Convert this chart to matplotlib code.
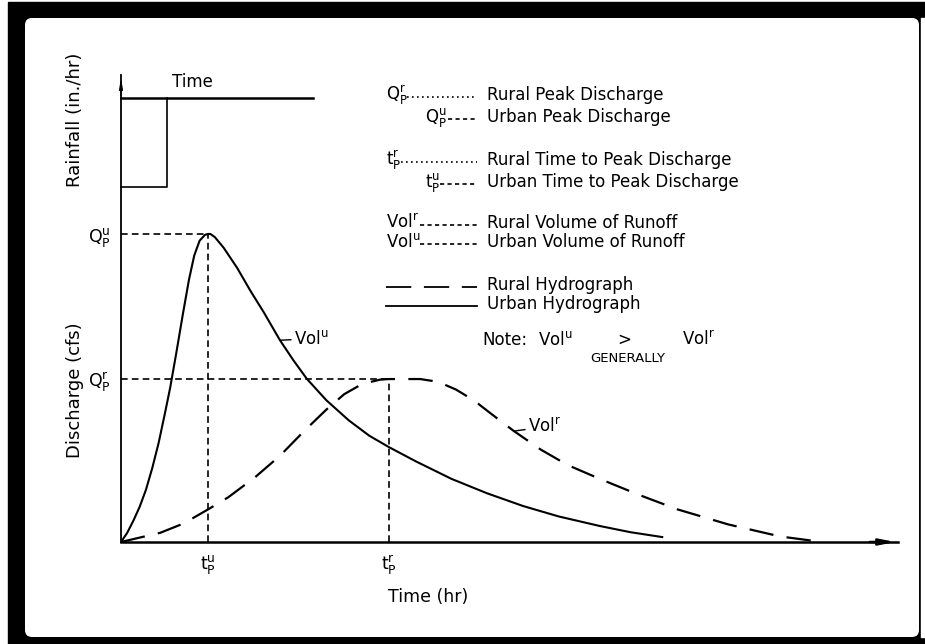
import matplotlib
matplotlib.use('Agg')
import matplotlib.pyplot as plt
from matplotlib.patches import Rectangle, FancyBboxPatch

# --- data (time in hr, discharge normalised) ---
urban_time = [0.0, 0.07, 0.14, 0.21, 0.28, 0.35, 0.42, 0.49, 0.55, 0.62, 0.69, 0.76,
              0.82, 0.88, 0.94, 0.974, 1.0, 1.05, 1.15, 1.3, 1.45, 1.6, 1.78, 1.93,
              2.08, 2.3, 2.55, 2.78, 3.0, 3.3, 3.7, 4.1, 4.5, 4.9, 5.36, 5.7, 6.06]
urban_q = [0.0, 0.03, 0.07, 0.115, 0.17, 0.24, 0.32, 0.415, 0.5, 0.615, 0.735, 0.85,
           0.93, 0.978, 0.997, 1.0, 1.0, 0.99, 0.955, 0.89, 0.815, 0.745, 0.655, 0.59,
           0.53, 0.46, 0.395, 0.345, 0.308, 0.262, 0.205, 0.158, 0.117, 0.083, 0.052,
           0.032, 0.016]

rural_time = [0.0, 0.44, 0.7, 0.97, 1.2, 1.5, 1.78, 2.05, 2.3, 2.5, 2.7, 2.9, 3.0, 3.35,
              3.55, 3.75, 3.95, 4.15, 4.4, 4.7, 5.0, 5.36, 5.8, 6.23, 6.8, 7.38, 7.85]
rural_q = [0.0, 0.03, 0.06, 0.105, 0.145, 0.21, 0.28, 0.36, 0.43, 0.48, 0.513, 0.527,
           0.529, 0.529, 0.52, 0.495, 0.46, 0.415, 0.36, 0.3, 0.25, 0.205, 0.153, 0.106,
           0.057, 0.018, 0.0]

t_peak_urban, q_peak_urban = 0.974, 1.0
t_peak_rural, q_peak_rural = 3.0, 0.529

rain_time = [0.0, 0.515]       # rainfall duration
rain_intensity = 1.0            # arbitrary depth of the hyetograph block
rain_axis_end = 2.15            # length of the rainfall time axis

legend_rows = [
    (r'Q$_P^r$', 'dot', 'Rural Peak Discharge'),
    (r'Q$_P^u$', 'dash_short', 'Urban Peak Discharge'),
    (r't$_P^r$', 'dot', 'Rural Time to Peak Discharge'),
    (r't$_P^u$', 'dash_short', 'Urban Time to Peak Discharge'),
    (r'Vol$^r$', 'dash', 'Rural Volume of Runoff'),
    (r'Vol$^u$', 'dash', 'Urban Volume of Runoff'),
    ('', 'long', 'Rural Hydrograph'),
    ('', 'solid', 'Urban Hydrograph'),
]

plt.rcParams['font.family'] = ['DejaVu Sans']
plt.rcParams['mathtext.default'] = 'regular'

W, H = 925, 644
fig = plt.figure(figsize=(W / 100, H / 100), dpi=100)


def fx(px):
    return px / W


def fy(py):
    return 1 - py / H


# background / frame in pixel coordinates
bg = fig.add_axes([0, 0, 1, 1])
bg.set_xlim(0, W)
bg.set_ylim(H, 0)
bg.axis('off')
bg.add_patch(Rectangle((8, 2), W - 8, H - 2, color='black'))
bg.add_patch(FancyBboxPatch((25, 18), 894, 619, boxstyle='round,pad=0,rounding_size=7',
                            fc='white', ec='none'))
bg.add_patch(Rectangle((921, 18), 4, 619, color='white'))

# main hydrograph axes
x0, x1, y0, y1 = 121, 898, 542, 75
ax = fig.add_axes([fx(x0), fy(y0), fx(x1) - fx(x0), fy(y1) - fy(y0)])
ax.patch.set_alpha(0)
ax.set_xlim(0, 8.70)
ax.set_ylim(0, 1.516)
for s in ['top', 'right']:
    ax.spines[s].set_visible(False)
ax.spines['left'].set_linewidth(1.3)
ax.spines['bottom'].set_linewidth(1.8)

ax.plot(urban_time, urban_q, color='black', lw=1.5, solid_joinstyle='round')
ax.plot(rural_time, rural_q, color='black', lw=1.6, linestyle=(0, (11, 6)))

guide = dict(color='black', lw=1.2, linestyle=(0, (4, 2.5)))
ax.plot([0, t_peak_urban], [q_peak_urban, q_peak_urban], **guide)
ax.plot([t_peak_urban, t_peak_urban], [0, q_peak_urban], **guide)
ax.plot([0, t_peak_rural], [q_peak_rural, q_peak_rural], **guide)
ax.plot([t_peak_rural, t_peak_rural], [0, q_peak_rural], **guide)

ax.set_xticks([t_peak_urban, t_peak_rural], labels=[r't$_P^u$', r't$_P^r$'], fontsize=12.5)
ax.set_yticks([q_peak_urban, q_peak_rural], labels=[r'Q$_P^u$', r'Q$_P^r$'], fontsize=12.5)
ax.tick_params(axis='x', length=0, pad=8)
ax.tick_params(axis='y', length=0, pad=7)

# axis arrows
ax.annotate('', xy=(1.0, 0), xytext=(0.96, 0), xycoords='axes fraction',
            arrowprops=dict(arrowstyle='-|>,head_length=0.9,head_width=0.18',
                            color='black', lw=1.8))
ax.annotate('', xy=(0, 1.0), xytext=(0, 0.95), xycoords='axes fraction',
            arrowprops=dict(arrowstyle='-|>,head_length=0.6,head_width=0.1',
                            color='black', lw=1.0))

# volume labels with short leaders
ax.annotate(r'Vol$^u$', xy=(urban_time[22], urban_q[22]), xytext=(10, 1),
            textcoords='offset points', fontsize=12, va='center',
            arrowprops=dict(arrowstyle='-', lw=1.0, color='black', shrinkA=0, shrinkB=0))
ax.annotate(r'Vol$^r$', xy=(rural_time[18], rural_q[18]), xytext=(10, 3),
            textcoords='offset points', fontsize=12, va='center',
            arrowprops=dict(arrowstyle='-', lw=1.0, color='black', shrinkA=0, shrinkB=0))

# rainfall hyetograph (hangs down from its time axis)
axr = fig.add_axes([fx(x0), fy(187), fx(x1) - fx(x0), fy(98) - fy(187)])
axr.set_xlim(ax.get_xlim())
axr.set_ylim(rain_intensity, 0)
axr.axis('off')
axr.plot([0, rain_axis_end], [0, 0], color='black', lw=1.8, clip_on=False)
axr.plot([rain_time[0], rain_time[1], rain_time[1]],
         [rain_intensity, rain_intensity, 0], color='black', lw=1.2, clip_on=False)

# axis titles
bg.text(192, 82, 'Time', fontsize=12, ha='center', va='center')
bg.text(75, 120, 'Rainfall (in./hr)', fontsize=13, rotation=90, ha='center', va='center')
bg.text(75, 390, 'Discharge (cfs)', fontsize=13, rotation=90, ha='center', va='center')
bg.text(428, 597, 'Time (hr)', fontsize=12.5, ha='center', va='center')

# legend block
row_y = [95, 117, 160, 182, 223, 242, 285, 304]
sym_x = [386, 425, 386, 425, 386, 386, 386, 386]
lead_start = [407, 448, 401, 440, 420, 420, 386, 386]
lead_end = 477
styles = {
    'dot': dict(linestyle=(0, (1, 2)), lw=1.2),
    'dash_short': dict(linestyle=(0, (2.5, 2)), lw=1.2),
    'dash': dict(linestyle=(0, (2.5, 2)), lw=1.2),
    'long': dict(linestyle=(0, (14, 7)), lw=1.3),
    'solid': dict(linestyle='-', lw=1.3),
}
for (sym, style, label), y, sx, ls in zip(legend_rows, row_y, sym_x, lead_start):
    if sym:
        bg.text(sx, y, sym, fontsize=12, ha='left', va='center')
    bg.plot([ls, lead_end], [y + 2, y + 2], color='black', **styles[style])
    bg.text(487, y, label, fontsize=12, ha='left', va='center')

bg.text(482, 340, 'Note:', fontsize=12, ha='left', va='center')
bg.text(538, 340, r'Vol$^u$', fontsize=12, ha='left', va='center')
bg.text(624, 340, '>', fontsize=12, ha='center', va='center')
bg.text(682, 340, r'Vol$^r$', fontsize=12, ha='left', va='center')
bg.text(628, 358, 'GENERALLY', fontsize=9.5, ha='center', va='center')

plt.savefig('out.png', dpi=100, facecolor='white')
